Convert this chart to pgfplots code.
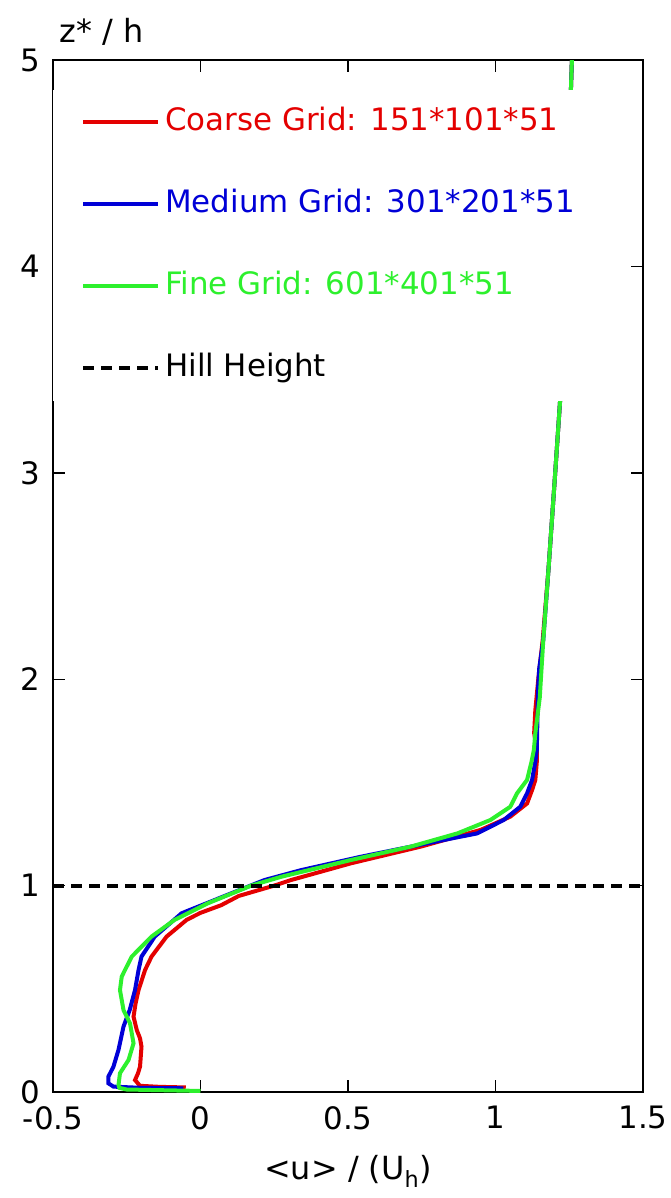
\documentclass[border=0pt]{standalone}
\usepackage{pgfplots}
\pgfplotsset{compat=1.18}
\usepackage{fontspec}
\setmainfont{DejaVu Sans}
\definecolor{cred}{RGB}{228,0,0}
\definecolor{cblue}{RGB}{0,0,215}
\definecolor{cgreen}{RGB}{45,240,45}
\begin{document}
\begin{tikzpicture}
\useasboundingbox (-53bp,-106bp) rectangle (618bp,1092bp);
\begin{axis}[
  scale only axis,
  width=590bp, height=1032bp,
  xmin=-0.5, xmax=1.5, ymin=0, ymax=5,
  xtick={-0.5,0,0.5,1,1.5},
  ytick={0,1,2,3,4,5},
  xticklabels={-0.5,0,0.5,1,1.5},
  yticklabels={0,1,2,3,4,5},
  tick align=inside,
  major tick length=12bp,
  axis line style={line width=1.4bp, black},
  tick style={line width=1.4bp, black},
  ticklabel style={font=\fontsize{31}{37}\selectfont, inner sep=0pt},
  xticklabel style={yshift=-14bp},
  yticklabel style={xshift=-13bp},
  every axis x label/.style={at={(rel axis cs:0.5,0)}, anchor=base, yshift=-87bp, font=\fontsize{32}{38}\selectfont},
  every axis y label/.style={at={(rel axis cs:0,1)}, anchor=base west, xshift=3bp, yshift=18bp, font=\fontsize{32}{38}\selectfont},
  xlabel={<u> / (U\textsubscript{h})},
  ylabel={z* / h},
  legend image code/.code={\draw[#1] (0bp,1bp) -- (75bp,1bp);},
  legend style={at={(rel axis cs:0,1)}, anchor=north west, yshift=-30bp,
    draw=none, fill=white, inner xsep=28bp, inner ysep=18bp,
    font=\fontsize{31}{37}\selectfont,
    nodes={inner sep=0pt, text height=22bp, text depth=7bp},
    row sep=53bp, column sep=5bp},
  legend cell align=left,
]
\addplot[cred, line width=4bp] coordinates {
(-0.05,0.022) (-0.14,0.025) (-0.205,0.03) (-0.222,0.058) (-0.212,0.09) (-0.205,0.123) (-0.2,0.22) (-0.205,0.26) (-0.216,0.3) (-0.227,0.365) (-0.22,0.43) (-0.21,0.494) (-0.188,0.591) (-0.166,0.656) (-0.115,0.753) (-0.047,0.834) (0.0,0.868) (0.07,0.905) (0.13,0.95) (0.25,1.0) (0.307,1.027) (0.51,1.108) (0.747,1.189) (0.95,1.27) (1.05,1.334) (1.107,1.398) (1.124,1.463) (1.135,1.512) (1.14,1.6) (1.14,1.657) (1.131,1.739) (1.135,1.85) (1.145,2.0) (1.16,2.19) (1.18,2.54) (1.2,2.95) (1.219,3.35) (1.238,4.1) (1.259,5.0)};
\addlegendentry{\textcolor{cred}{Coarse Grid: 151*101*51}}
\addplot[cblue, line width=4bp] coordinates {
(-0.058,0.018) (-0.2,0.02) (-0.295,0.026) (-0.312,0.042) (-0.312,0.075) (-0.295,0.123) (-0.278,0.204) (-0.261,0.317) (-0.24,0.397) (-0.222,0.494) (-0.21,0.591) (-0.2,0.656) (-0.155,0.753) (-0.064,0.866) (0.105,0.963) (0.217,1.027) (0.341,1.075) (0.544,1.14) (0.769,1.205) (0.938,1.253) (1.028,1.318) (1.084,1.382) (1.107,1.447) (1.124,1.512) (1.135,1.6) (1.14,1.657) (1.142,1.8) (1.144,1.948) (1.148,2.05) (1.162,2.19) (1.18,2.54) (1.2,2.95) (1.219,3.35) (1.238,4.1) (1.259,5.0)};
\addlegendentry{\textcolor{cblue}{Medium Grid: 301*201*51}}
\addplot[cgreen, line width=4bp] coordinates {
(0.0,0.005) (-0.25,0.012) (-0.275,0.02) (-0.278,0.034) (-0.273,0.091) (-0.244,0.155) (-0.227,0.236) (-0.239,0.333) (-0.261,0.397) (-0.273,0.494) (-0.267,0.559) (-0.256,0.591) (-0.233,0.656) (-0.166,0.753) (-0.088,0.834) (0.026,0.915) (0.172,1.0) (0.274,1.043) (0.51,1.124) (0.713,1.189) (0.871,1.253) (0.983,1.318) (1.05,1.382) (1.073,1.447) (1.107,1.512) (1.122,1.6) (1.13,1.657) (1.135,1.739) (1.15,1.91) (1.162,2.19) (1.18,2.54) (1.2,2.95) (1.219,3.35) (1.238,4.1) (1.259,5.0)};
\addlegendentry{\textcolor{cgreen}{Fine Grid: 601*401*51}}
\addplot[black, line width=4bp, dash pattern=on 11bp off 7bp] coordinates {(-0.5,1) (1.5,1)};
\addlegendentry{Hill Height}
\end{axis}
\end{tikzpicture}
\end{document}
